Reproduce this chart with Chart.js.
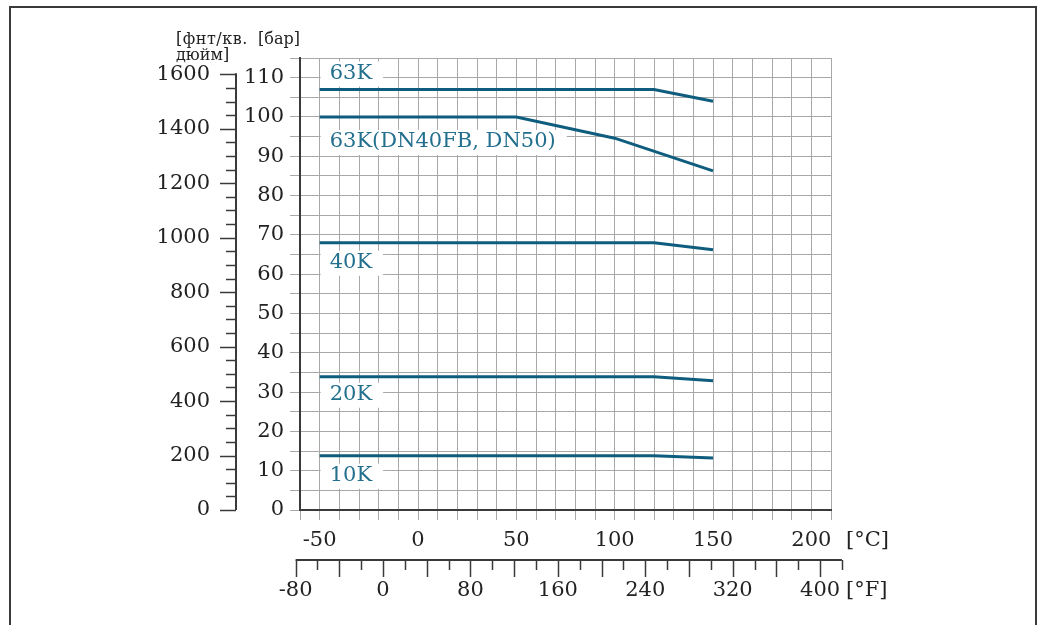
<!DOCTYPE html>
<html lang="ru">
<head>
<meta charset="UTF-8">
<title>Pressure / temperature ratings</title>
<script src="https://cdn.jsdelivr.net/npm/chart.js"></script>
<style>
  body { margin: 0; background: #fff; }
  canvas { display: block; }
</style>
</head>
<body>
<canvas id="ptChart" width="1043" height="625"></canvas>
<script>
// temperatures in °C where the curves bend
const temps = [-50, 120, 150];
const tempsDN = [-50, 50, 100, 150];

// pressure in bar
const p63K = [107, 107, 104];
const p63KDN = [100, 100, 94.6, 86.3];
const p40K = [68, 68, 66.2];
const p20K = [33.9, 33.9, 32.9];
const p10K = [13.8, 13.8, 13.2];

const seriesNames = ['63K', '63K(DN40FB, DN50)', '40K', '20K', '10K'];

// tick labels
const celsiusLabels = [-50, 0, 50, 100, 150, 200];
const barLabels = [0, 10, 20, 30, 40, 50, 60, 70, 80, 90, 100, 110];
const psiLabels = [0, 200, 400, 600, 800, 1000, 1200, 1400, 1600];
const fahrenheitLabels = [-80, 0, 80, 160, 240, 320, 400];

const lineColor = '#0f5d7e';
const textColor = '#236f8e';
const axisColor = '#3a3a3a';
const gridColor = '#a8a8a8';

Chart.defaults.font.family = "'DejaVu Serif', serif";
Chart.defaults.font.size = 21;
Chart.defaults.color = '#222';

function toPoints(xs, ys) {
    return xs.map((x, i) => ({ x: x, y: ys[i] }));
}

const curves = [
    toPoints(temps, p63K),
    toPoints(tempsDN, p63KDN),
    toPoints(temps, p40K),
    toPoints(temps, p20K),
    toPoints(temps, p10K)
];

// extra drawing: frame, curve names, psi and °F scales, unit labels
const overlay = {
    id: 'overlay',
    beforeDraw(chart) {
        const ctx = chart.ctx;
        ctx.save();
        ctx.strokeStyle = axisColor;
        ctx.lineWidth = 2;
        ctx.strokeRect(10, 7, 1026, 700);
        ctx.restore();
    },
    beforeDatasetsDraw(chart) {
        const ctx = chart.ctx;
        const x = chart.scales.x;
        const y = chart.scales.y;
        const offsets = [-16, 25, 20, 18, 20];
        ctx.save();
        ctx.font = "21px 'DejaVu Serif', serif";
        ctx.textBaseline = 'middle';
        ctx.textAlign = 'left';
        seriesNames.forEach((name, i) => {
            const tx = x.getPixelForValue(curves[i][0].x) + 10;
            const cy = y.getPixelForValue(curves[i][0].y) + offsets[i];
            const w = ctx.measureText(name).width;
            ctx.fillStyle = '#fff';
            ctx.fillRect(tx - 9, cy - 12, w + 20, 25);
            ctx.fillStyle = textColor;
            ctx.fillText(name, tx, cy);
        });
        ctx.restore();
    },
    afterDraw(chart) {
        const ctx = chart.ctx;
        const area = chart.chartArea;
        const psi = chart.scales.psi;
        const fahr = chart.scales.fahr;
        ctx.save();
        ctx.strokeStyle = axisColor;
        ctx.fillStyle = '#222';

        // psi axis line and ticks
        const px = psi.right;
        ctx.lineWidth = 2;
        ctx.beginPath();
        ctx.moveTo(px, psi.getPixelForValue(1600) - 1);
        ctx.lineTo(px, psi.getPixelForValue(0));
        ctx.stroke();
        ctx.lineWidth = 1.5;
        for (let v = 0; v <= 1600; v += 50) {
            const py = Math.round(psi.getPixelForValue(v)) + 0.5;
            const len = v % 200 === 0 ? 16 : 10;
            ctx.beginPath();
            ctx.moveTo(px - len, py);
            ctx.lineTo(px, py);
            ctx.stroke();
        }

        // °F axis below the °C axis
        const fy = area.bottom + 50;
        ctx.lineWidth = 2;
        ctx.beginPath();
        ctx.moveTo(fahr.getPixelForValue(-80), fy);
        ctx.lineTo(fahr.getPixelForValue(420), fy);
        ctx.stroke();
        ctx.lineWidth = 1.5;
        for (let v = -80; v <= 420; v += 20) {
            const fx = Math.round(fahr.getPixelForValue(v)) + 0.5;
            const len = v % 40 === 0 ? 17 : 10;
            ctx.beginPath();
            ctx.moveTo(fx, fy);
            ctx.lineTo(fx, fy + len);
            ctx.stroke();
        }
        ctx.font = "21px 'DejaVu Serif', serif";
        ctx.textAlign = 'center';
        ctx.textBaseline = 'middle';
        fahrenheitLabels.forEach(v => {
            ctx.fillText(String(v), fahr.getPixelForValue(v), fy + 31);
        });

        // units
        ctx.textAlign = 'left';
        ctx.fillText('[°C]', 846, area.bottom + 31);
        ctx.fillText('[°F]', 846, fy + 31);
        ctx.font = "16px 'DejaVu Serif', serif";
        ctx.fillText('дюйм]', 176, 56);
        ctx.fillText('[бар]', 258, 40);
        ctx.letterSpacing = '0.5px';
        ctx.fillText('[фнт/кв.', 176, 40);
        ctx.restore();
    }
};

new Chart(document.getElementById('ptChart'), {
    type: 'line',
    data: {
        datasets: curves.map((pts, i) => ({
            label: seriesNames[i],
            data: pts,
            borderColor: lineColor,
            borderWidth: 3,
            pointRadius: 0,
            tension: 0,
            fill: false
        }))
    },
    options: {
        responsive: false,
        animation: false,
        layout: { padding: { left: 0, right: 212, top: 58, bottom: 65 } },
        plugins: { legend: { display: false }, tooltip: { enabled: false } },
        scales: {
            x: {
                type: 'linear',
                position: 'bottom',
                min: -60,
                max: 210,
                afterFit: s => { s.height = 50; },
                grid: { color: gridColor, lineWidth: 1, tickLength: 10 },
                border: { color: axisColor, width: 2 },
                ticks: {
                    stepSize: 10,
                    autoSkip: false,
                    maxRotation: 0,
                    padding: 8,
                    callback: v => celsiusLabels.includes(v) ? String(v) : ''
                }
            },
            fahr: {
                type: 'linear',
                position: 'bottom',
                display: false,
                min: -76,
                max: 410
            },
            y: {
                type: 'linear',
                position: 'left',
                weight: 0,
                min: 0,
                max: 115,
                afterFit: s => { s.width = 64; },
                grid: { color: gridColor, lineWidth: 1, tickLength: 10 },
                border: { color: axisColor, width: 2 },
                ticks: {
                    stepSize: 5,
                    autoSkip: false,
                    padding: 6,
                    callback: v => barLabels.includes(v) ? String(v) : ''
                }
            },
            psi: {
                type: 'linear',
                position: 'left',
                weight: 1,
                min: 0,
                max: 1660,
                afterFit: s => { s.width = 236; },
                afterBuildTicks: s => { s.ticks = psiLabels.map(v => ({ value: v })); },
                grid: { display: false },
                border: { display: false },
                ticks: {
                    autoSkip: false,
                    padding: 18,
                    callback: v => String(v)
                }
            }
        }
    },
    plugins: [overlay]
});
</script>
</body>
</html>
